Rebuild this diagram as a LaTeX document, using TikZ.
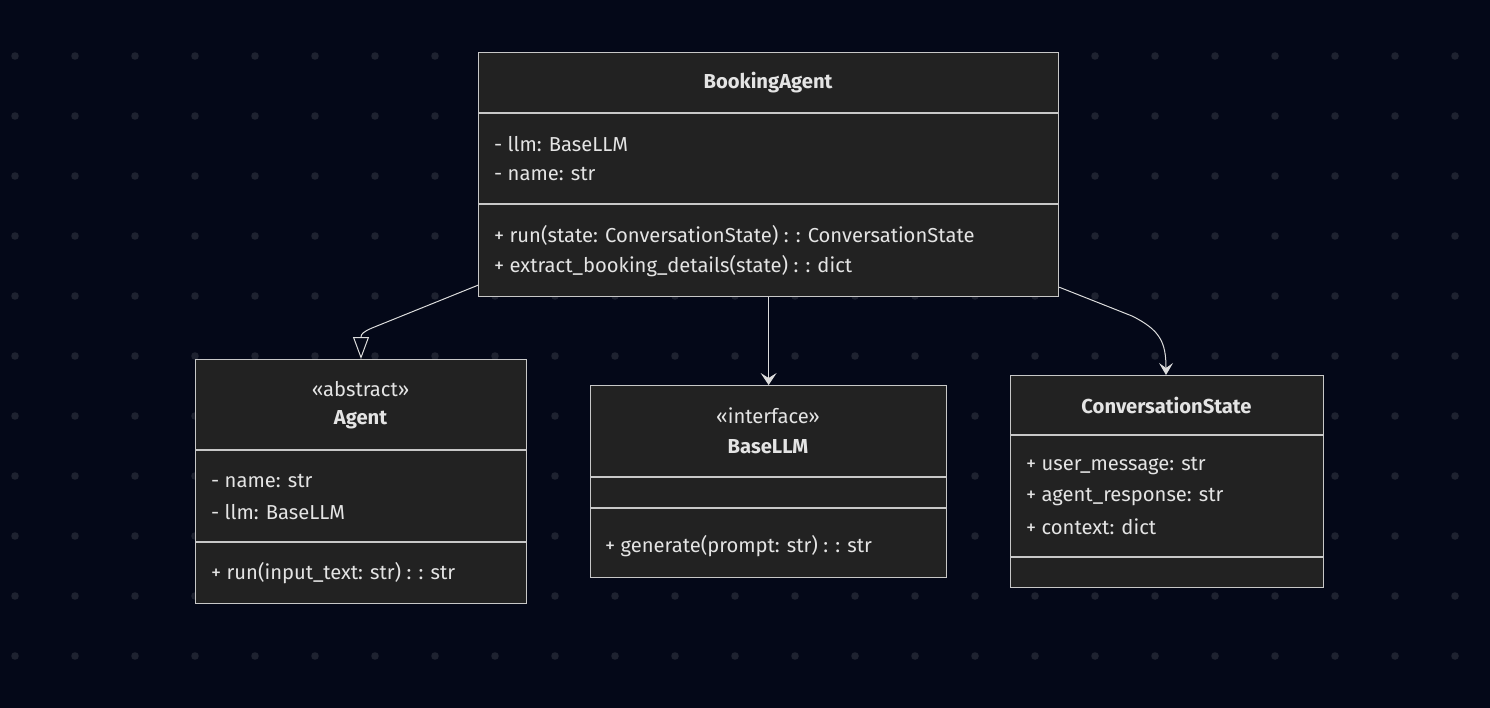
\documentclass[tikz,border=0pt]{standalone}
\usepackage{fontspec}
\setmainfont{Fira Sans}
\usetikzlibrary{arrows.meta}
\definecolor{bg}{RGB}{4,8,24}
\definecolor{dotc}{RGB}{30,34,48}
\definecolor{boxfill}{RGB}{34,34,34}
\definecolor{boxline}{RGB}{200,200,200}
\definecolor{txt}{RGB}{228,228,228}
\definecolor{edge}{RGB}{220,220,220}
\tikzset{
  umlbox/.style={draw=boxline, fill=boxfill, line width=1.2pt, anchor=north west, inner sep=0pt},
  divider/.style={draw=boxline, line width=1.2pt},
  member/.style={anchor=west, text=txt, font=\fontsize{20.2}{22}\selectfont, inner sep=0pt},
  title/.style={anchor=center, text=txt, font=\fontsize{20.2}{22}\selectfont\bfseries, inner sep=0pt},
  stereo/.style={anchor=center, text=txt, font=\fontsize{20.2}{22}\selectfont, inner sep=0pt},
  conn/.style={draw=edge, line width=1pt},
}
\begin{document}
\begin{tikzpicture}[x=1pt,y=-1pt]
\fill[bg] (0,0) rectangle (1490,708);
\useasboundingbox (0,0) rectangle (1490,708);
% dot grid
\foreach \i in {0,...,24}{
  \foreach \j in {0,...,10}{
    \fill[dotc] ({15+60*\i},{56+60*\j}) circle (3.8);
  }
}
% BookingAgent
\node[umlbox, minimum width=580pt, minimum height=244pt] (ba) at (478,52) {};
\draw[divider] (478,113) -- (1058,113);
\draw[divider] (478,204) -- (1058,204);
\node[title] (bat) at (768,83) {BookingAgent};
\node[member] (ba1) at (494,144) {- llm: BaseLLM};
\node[member] (ba2) at (494,174) {- name: str};
\node[member] (ba3) at (494,235) {+ run(state: ConversationState) : : ConversationState};
\node[member] (ba4) at (494,266) {+ extract\_booking\_details(state) : : dict};
% Agent
\node[umlbox, minimum width=331pt, minimum height=244pt] (ag) at (195,359) {};
\draw[divider] (195,450) -- (526,450);
\draw[divider] (195,542) -- (526,542);
\node[stereo] (ags) at (360.5,389) {«abstract»};
\node[title] (agt) at (360.5,420) {Agent};
\node[member] (ag1) at (211,481) {- name: str};
\node[member] (ag2) at (211,512) {- llm: BaseLLM};
\node[member] (ag3) at (211,573) {+ run(input\_text: str) : : str};
% BaseLLM
\node[umlbox, minimum width=356pt, minimum height=192pt] (bl) at (590,385) {};
\draw[divider] (590,477) -- (946,477);
\draw[divider] (590,508) -- (946,508);
\node[stereo] (bls) at (768,416) {«interface»};
\node[title] (blt) at (768,447) {BaseLLM};
\node[member] (bl1) at (605,546) {+ generate(prompt: str) : : str};
% ConversationState
\node[umlbox, minimum width=313pt, minimum height=212pt] (cs) at (1010,375) {};
\draw[divider] (1010,435) -- (1323,435);
\draw[divider] (1010,557) -- (1323,557);
\node[title] (cst) at (1166.5,405) {ConversationState};
\node[member] (cs1) at (1026,466) {+ user\_message: str};
\node[member] (cs2) at (1026,497) {+ agent\_response: str};
\node[member] (cs3) at (1026,527) {+ context: dict};
% connectors
\coordinate (agtop) at (361,359);
\coordinate (cstop) at (1166,375);
\draw[conn, -{Triangle[open, width=16pt, length=22pt, line width=1pt]}]
  ([yshift=12pt]ba.south west) -- (372,328) .. controls (363,332) and (361,334) .. (agtop);
\draw[conn, -{Stealth[width=16pt, length=12pt, inset=5pt]}]
  (ba.south) -- (bl.north);
\draw[conn, -{Stealth[width=14pt, length=12pt, inset=5pt]}]
  ([yshift=10pt]ba.south east) -- (1132,316) .. controls (1160,330) and (1166,342) .. (cstop);
\end{tikzpicture}
\end{document}
